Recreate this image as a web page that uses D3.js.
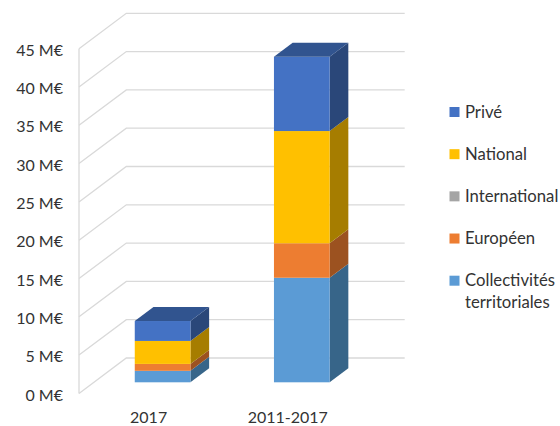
<!DOCTYPE html>
<html>
<head>
<meta charset="utf-8">
<script src="https://cdn.jsdelivr.net/npm/d3@7"></script>
<style>
html, body { margin: 0; padding: 0; background: #fff; }
svg { display: block; }
text { font-family: Lato, "Open Sans", sans-serif; fill: #333; }
</style>
</head>
<body>
<div class="container"></div>
<script>
var categories = ['2017', '2011-2017'];
var tickValues = [0, 5, 10, 15, 20, 25, 30, 35, 40, 45];

var seriesNames = ['Collectivités territoriales', 'Européen', 'International', 'National', 'Privé'];
var collectivites = [1.5, 13.65];
var europeen = [0.9, 4.5];
var international = [0, 0];
var national = [3, 14.65];
var prive = [2.6, 9.7];
var seriesValues = [collectivites, europeen, international, national, prive];

var frontColors = ['#5b9bd5', '#ed7d31', '#a5a5a5', '#ffc000', '#4472c4'];
var sideColors = ['#376589', '#9c5220', '#6d6d6d', '#a67d00', '#2a4779'];
var TOP_COLOR = '#31548f';

const WIDTH = 560;
const HEIGHT = 426;

// oblique offsets of the 3d box
const DEPTH_X = 47.3;
const DEPTH_Y = -35.4;
const BAR_SHIFT_X = 14;
const BAR_SHIFT_Y = -11.1;
const BAR_DEPTH_X = 18.7;
const BAR_DEPTH_Y = -14;

var svg = d3.select('.container').append('svg')
    .attr('width', WIDTH)
    .attr('height', HEIGHT);

var yScale = d3.scaleLinear().domain([0, 45]).range([393.4, 48.7]);
var xScale = d3.scaleBand().domain(categories).range([79, 357.4]).paddingInner(0.6).paddingOuter(0.3);

var addGrid = function () {
    var left = xScale.range()[0];
    var right = xScale.range()[1];
    var grid = svg.append('g')
        .attr('fill', 'none')
        .attr('stroke', '#d9d9d9')
        .attr('stroke-width', 1.3);

    grid.append('line')
        .attr('x1', left).attr('x2', left)
        .attr('y1', yScale(0)).attr('y2', yScale(45));

    grid.selectAll('path')
        .data(tickValues)
        .enter()
        .append('path')
        .attr('d', function (d) {
            var path = d3.path();
            path.moveTo(left, yScale(d));
            path.lineTo(left + DEPTH_X, yScale(d) + DEPTH_Y);
            path.lineTo(right + DEPTH_X, yScale(d) + DEPTH_Y);
            return path.toString();
        });
};

var addAxes = function () {
    var yAxis = d3.axisLeft(yScale)
        .tickValues(tickValues)
        .tickSize(0)
        .tickPadding(16)
        .tickFormat(function (d) { return d + ' M€'; });
    var yGroup = svg.append('g')
        .attr('transform', 'translate(79,1.5)')
        .call(yAxis);
    yGroup.select('.domain').remove();
    yGroup.selectAll('text').style('font-size', '16px').style('font-family', null);

    var xAxis = d3.axisBottom(xScale).tickSize(0).tickPadding(18);
    var xGroup = svg.append('g')
        .attr('transform', 'translate(0,' + yScale(0) + ')')
        .call(xAxis);
    xGroup.select('.domain').remove();
    xGroup.selectAll('text').style('font-size', '16px').style('font-family', null);
};

var polygon = function (points) {
    return d3.line()(points) + 'Z';
};

var addBars = function () {
    var perUnit = function (v) { return yScale(v) + BAR_SHIFT_Y; };

    categories.forEach(function (category, c) {
        var bar = svg.append('g').attr('class', 'bar');
        var x0 = xScale(category) + BAR_SHIFT_X;
        var x1 = x0 + xScale.bandwidth();
        var total = 0;

        seriesValues.forEach(function (values, s) {
            var yBottom = perUnit(total);
            total += values[c];
            var yTop = perUnit(total);
            if (values[c] === 0) {
                return;
            }
            // side face
            bar.append('path')
                .attr('fill', sideColors[s])
                .attr('d', polygon([
                    [x1, yBottom], [x1 + BAR_DEPTH_X, yBottom + BAR_DEPTH_Y],
                    [x1 + BAR_DEPTH_X, yTop + BAR_DEPTH_Y], [x1, yTop]
                ]));
            bar.append('rect')
                .attr('x', x0)
                .attr('y', yTop)
                .attr('width', x1 - x0)
                .attr('height', yBottom - yTop)
                .attr('fill', frontColors[s]);
        });

        var yEnd = perUnit(total);
        bar.append('path')
            .attr('fill', TOP_COLOR)
            .attr('d', polygon([
                [x0, yEnd], [x1, yEnd],
                [x1 + BAR_DEPTH_X, yEnd + BAR_DEPTH_Y], [x0 + BAR_DEPTH_X, yEnd + BAR_DEPTH_Y]
            ]));
    });
};

var addLegend = function () {
    var legendY = d3.scalePoint()
        .domain(seriesNames.slice().reverse())
        .range([112, 280.7]);

    seriesNames.forEach(function (name, s) {
        var y = legendY(name);
        svg.append('rect')
            .attr('x', 449.5)
            .attr('y', y - 5)
            .attr('width', 10)
            .attr('height', 10)
            .attr('fill', frontColors[s]);

        var words = name.split(' ');
        var label = svg.append('text')
            .attr('x', 465)
            .attr('y', y + 5.5)
            .style('font-size', '16.7px');
        words.forEach(function (word, i) {
            label.append('tspan')
                .attr('x', 465)
                .attr('dy', i === 0 ? 0 : 22)
                .text(word);
        });
    });
};

addGrid();
addAxes();
addBars();
addLegend();
</script>
</body>
</html>
